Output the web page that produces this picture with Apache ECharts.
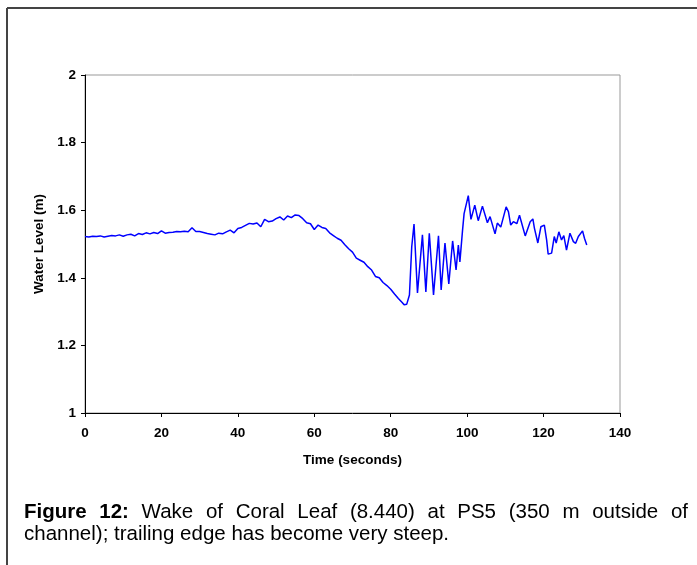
<!DOCTYPE html>
<html>
<head>
<meta charset="utf-8">
<script src="https://cdn.jsdelivr.net/npm/echarts@6/dist/echarts.min.js"></script>
<style>
html,body{margin:0;padding:0;background:#fff;}
#chart{width:697px;height:565px;}
</style>
</head>
<body>
<div id="chart"></div>
<script>
// Data
var timeSeconds = [0,1,2,3,4,5,6,7,8,9,10,11,12,13,14,15,16,17,18,19,20,21,22,23,24,25,26,27,28,29,30,31,32,33,34,35,36,37,38,39,40,41,42,43,44,45,46,47,48,49,50,51,52,53,54,55,56,57,58,59,60,61,62,63,64,65,66,67,68,69,70,71,72,73,74,75,76,77,78,79,80,81,82,83,83.5,84.2,84.9,85.5,86.1,87,88.3,89.2,90.1,91.2,92.5,93.2,94.2,95.2,96.2,97.1,97.7,98.1,98.8,99.2,100.3,101,102,102.9,104,105.3,106,107.3,107.9,108.8,110.2,110.8,111.4,112.1,113,113.7,115.2,116.5,117.2,117.6,118.5,119.3,120.2,120.8,121.2,122.1,122.8,123.3,124,124.7,125.3,126,126.9,127.8,128.4,129.1,130.2,130.7,131.3];
var waterLevel = [1.522,1.521,1.523,1.522,1.524,1.521,1.523,1.525,1.524,1.527,1.523,1.527,1.529,1.524,1.531,1.528,1.533,1.530,1.534,1.531,1.539,1.532,1.534,1.535,1.537,1.536,1.538,1.536,1.548,1.537,1.537,1.534,1.531,1.529,1.527,1.532,1.530,1.536,1.541,1.533,1.546,1.549,1.555,1.561,1.559,1.562,1.551,1.573,1.566,1.568,1.575,1.580,1.571,1.583,1.578,1.586,1.584,1.575,1.563,1.560,1.543,1.556,1.549,1.546,1.533,1.525,1.517,1.511,1.498,1.486,1.476,1.458,1.452,1.446,1.433,1.423,1.404,1.400,1.386,1.377,1.366,1.352,1.339,1.327,1.320,1.322,1.349,1.492,1.559,1.355,1.527,1.358,1.532,1.349,1.524,1.364,1.503,1.382,1.509,1.423,1.497,1.447,1.541,1.590,1.643,1.573,1.615,1.569,1.612,1.563,1.581,1.530,1.562,1.550,1.610,1.596,1.556,1.566,1.560,1.585,1.524,1.566,1.574,1.547,1.503,1.551,1.556,1.512,1.470,1.473,1.522,1.503,1.536,1.512,1.525,1.482,1.532,1.507,1.502,1.522,1.539,1.517,1.497];
var xTicks = {min: 0, max: 140, step: 20};
var yTicks = {min: 1, max: 2, step: 0.2};
var xAxisTitle = 'Time (seconds)';
var yAxisTitle = 'Water Level (m)';
var captionBold = 'Figure 12:';
var captionLine1 = 'Wake of Coral Leaf (8.440) at PS5 (350 m outside of';
var captionLine2 = 'channel); trailing edge has become very steep.';

var chart = echarts.init(document.getElementById('chart'), null, {renderer: 'canvas'});

var points = timeSeconds.map(function (t, i) { return [t, waterLevel[i]]; });

// justify caption line 1
var capFont = '20.5px "Liberation Sans", Arial, sans-serif';
var capBoldFont = 'bold 20.5px "Liberation Sans", Arial, sans-serif';
var cv = document.createElement('canvas').getContext('2d');
function measure(txt, font) { cv.font = font; return cv.measureText(txt).width; }
var words = [];
captionBold.split(' ').forEach(function (w) { words.push({t: w, b: true}); });
captionLine1.split(' ').forEach(function (w) { words.push({t: w, b: false}); });
var leftX = 24, rightX = 688;
var total = 0;
words.forEach(function (w) { w.w = measure(w.t, w.b ? capBoldFont : capFont); total += w.w; });
var gap = (rightX - leftX - total) / (words.length - 1);
var graphics = [];
var cx = leftX;
words.forEach(function (w) {
  graphics.push({type: 'text', left: cx, top: 502, style: {text: w.t, font: w.b ? capBoldFont : capFont, fill: '#000'}});
  cx += w.w + gap;
});
graphics.push({type: 'text', left: leftX, top: 524, style: {text: captionLine2, font: capFont, fill: '#000'}});
// outer frame (left and top)
graphics.push({type: 'line', shape: {x1: 7, y1: 8, x2: 7, y2: 565}, style: {stroke: '#444', lineWidth: 2}});
graphics.push({type: 'line', shape: {x1: 7, y1: 8, x2: 697, y2: 8}, style: {stroke: '#444', lineWidth: 2}});

var axisFont = {fontFamily: '"Liberation Sans", Arial, sans-serif', fontWeight: 'bold', fontSize: 13.5, color: '#000'};

chart.setOption({
  animation: false,
  backgroundColor: '#fff',
  grid: {left: 85, right: 77, top: 75, bottom: 152, show: true, borderColor: '#999', borderWidth: 1, containLabel: false},
  xAxis: {
    type: 'value', min: xTicks.min, max: xTicks.max, interval: xTicks.step,
    name: xAxisTitle, nameLocation: 'middle', nameGap: 40,
    nameTextStyle: axisFont,
    axisLine: {show: true, onZero: false, lineStyle: {color: '#000', width: 1}},
    axisTick: {show: true, inside: false, length: 4, lineStyle: {color: '#000'}},
    axisLabel: Object.assign({margin: 13}, axisFont),
    splitLine: {show: false}
  },
  yAxis: {
    type: 'value', min: yTicks.min, max: yTicks.max, interval: yTicks.step,
    name: yAxisTitle, nameLocation: 'middle', nameGap: 38, nameRotate: 90,
    nameTextStyle: axisFont,
    axisLine: {show: true, onZero: false, lineStyle: {color: '#000', width: 1}},
    axisTick: {show: true, inside: false, length: 4, lineStyle: {color: '#000'}},
    axisLabel: Object.assign({margin: 9}, axisFont),
    splitLine: {show: false}
  },
  series: [{
    type: 'line', data: points, showSymbol: false, symbol: 'none',
    lineStyle: {color: '#0000ff', width: 1.5}, z: 3
  }],
  graphic: graphics
});
</script>
</body>
</html>
